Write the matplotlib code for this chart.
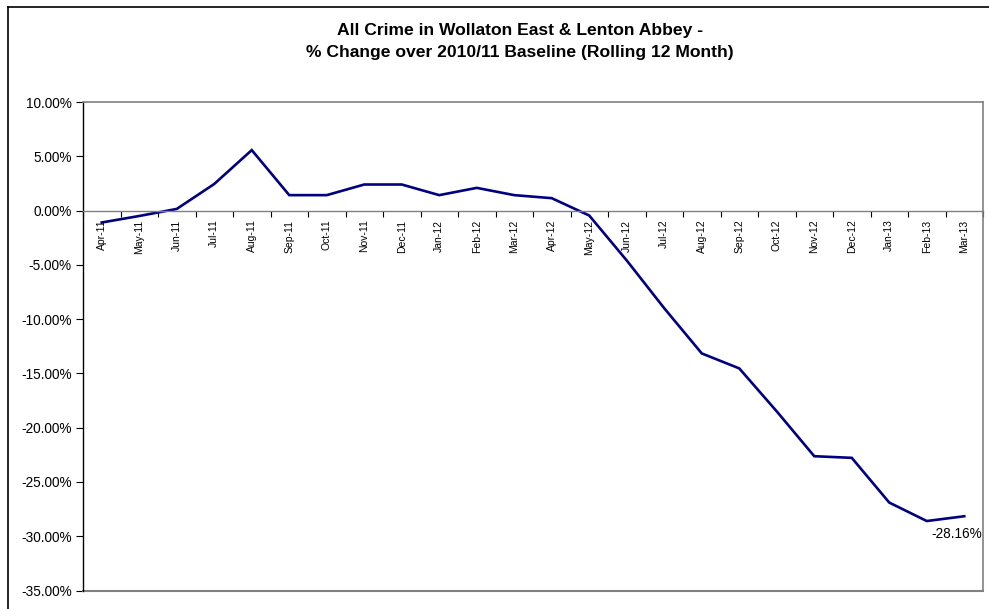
import matplotlib
matplotlib.use("Agg")
import matplotlib.pyplot as plt
from matplotlib.lines import Line2D
from matplotlib.ticker import FuncFormatter, FixedLocator

months = ["Apr-11", "May-11", "Jun-11", "Jul-11", "Aug-11", "Sep-11", "Oct-11", "Nov-11",
          "Dec-11", "Jan-12", "Feb-12", "Mar-12", "Apr-12", "May-12", "Jun-12", "Jul-12",
          "Aug-12", "Sep-12", "Oct-12", "Nov-12", "Dec-12", "Jan-13", "Feb-13", "Mar-13"]
pct_change = [-1.10, -0.50, 0.15, 2.45, 5.57, 1.42, 1.42, 2.40,
              2.40, 1.42, 2.09, 1.42, 1.14, -0.46, -4.60, -9.00,
              -13.16, -14.54, -18.50, -22.63, -22.78, -26.90, -28.60, -28.16]
yticks = [10, 5, 0, -5, -10, -15, -20, -25, -30, -35]
title_lines = ["All Crime in Wollaton East & Lenton Abbey -",
               "% Change over 2010/11 Baseline (Rolling 12 Month)"]
final_label = "-28.16%"

plt.rcParams['font.family'] = ['Liberation Sans', 'DejaVu Sans']

W, H = 989, 609
fig = plt.figure(figsize=(W / 100, H / 100), dpi=100)
fig.patch.set_facecolor("white")

L, R, T, B = 83, 983, 102, 590.5
ax = fig.add_axes([L / W, (H - B) / H, (R - L) / W, (B - T) / H])

x = list(range(len(months)))
ax.plot(x, pct_change, color="#000080", lw=1.9, solid_joinstyle="miter")

ax.set_xlim(-0.5, len(months) - 0.5)
ax.set_ylim(-35, 10)
ax.yaxis.set_major_locator(FixedLocator(yticks))
ax.yaxis.set_major_formatter(FuncFormatter(lambda v, p: f"{v:.2f}%"))
ax.tick_params(axis="y", labelsize=9.8, length=5, width=0.8, color="black", pad=3)

# x axis crosses at zero
ax.spines["bottom"].set_position(("data", 0))
ax.spines["bottom"].set_color("#808080")
ax.spines["bottom"].set_linewidth(1.0)
ax.spines["top"].set_color("#808080")
ax.spines["right"].set_color("#808080")
ax.spines["top"].set_linewidth(1.2)
ax.spines["right"].set_linewidth(1.2)
ax.spines["left"].set_color("black")
ax.spines["left"].set_linewidth(1.0)
ax.axhline(-35, color="#808080", lw=1.5, clip_on=False)

ax.set_xticks([i - 0.5 for i in range(len(months) + 1)])
ax.set_xticklabels([])
ax.tick_params(axis="x", length=4, width=0.8, color="black", direction="out")
for i, m in enumerate(months):
    ax.annotate(m, xy=(i, 0), xytext=(0, -9), textcoords="offset pixels",
                rotation=90, ha="center", va="top", fontsize=7.5)

ax.annotate(final_label, xy=(x[-1], pct_change[-1]), xytext=(-7, -18),
            textcoords="offset pixels", ha="center", va="center", fontsize=9.8)

fig.text(520 / W, 1 - 30 / H, title_lines[0], ha="center", va="center",
         fontsize=12.6, fontweight="bold")
fig.text(520 / W, 1 - 52 / H, title_lines[1], ha="center", va="center",
         fontsize=12.6, fontweight="bold")

# outer chart border (top and left visible)
fig.add_artist(Line2D([8 / W, 1], [1 - 7 / H, 1 - 7 / H], color="black", lw=1.2,
                      transform=fig.transFigure))
fig.add_artist(Line2D([8 / W, 8 / W], [0, 1 - 7 / H], color="black", lw=1.2,
                      transform=fig.transFigure))

fig.savefig("out.png", dpi=100)
